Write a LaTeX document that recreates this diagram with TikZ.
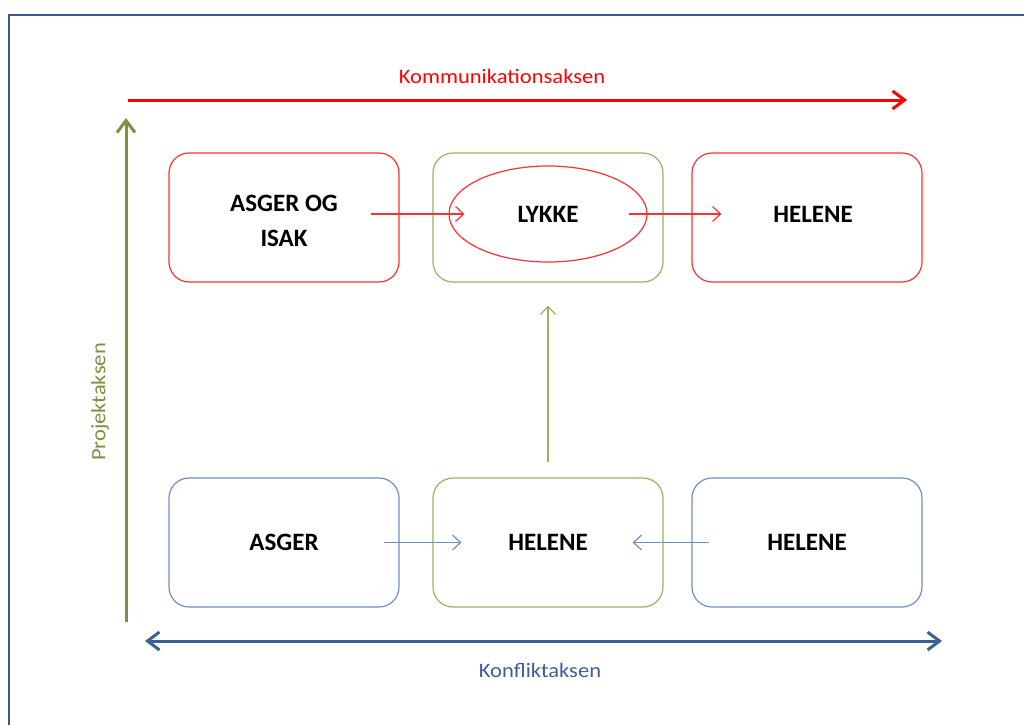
\documentclass[tikz,border=0pt]{standalone}
\usepackage{fontspec}
\setmainfont{Carlito}
\newfontfamily\labfont[FakeStretch=1.1]{Carlito}
\usetikzlibrary{arrows.meta,shapes.geometric}
\definecolor{frameblue}{HTML}{3F5689}
\definecolor{axred}{HTML}{FF0000}
\definecolor{boxred}{HTML}{FF3030}
\definecolor{axgreen}{HTML}{77933C}
\definecolor{boxgreen}{HTML}{9BB060}
\definecolor{axblue}{HTML}{3B6098}
\definecolor{boxblue}{HTML}{6F8FBF}
\tikzset{
  boldtxt/.style={inner sep=0pt, align=center, font=\fontsize{25}{35}\selectfont\bfseries},
  box/.style={draw, rounded corners=20pt, minimum width=230pt, minimum height=129pt, line width=1.2pt, boldtxt},
  redbox/.style={box, draw=boxred},
  greenbox/.style={box, draw=boxgreen},
  bluebox/.style={box, draw=boxblue},
  axis/.style={line width=3pt, -{Straight Barb[length=12pt, width=18pt, line width=3pt]}},
  thinarrow/.style={line width=1.2pt, -{Straight Barb[length=8pt, width=15pt, line width=1.2pt]}},
  lab/.style={font=\labfont\fontsize{20.5}{24}\selectfont}
}
\begin{document}
\begin{tikzpicture}[x=1pt,y=-1pt]
\useasboundingbox (0,0) rectangle (1024,724);
% frame
\draw[frameblue, line width=2pt] (9,740) -- (9,15) -- (1040,15);
% boxes
\node[redbox] (tl) at (284,217.5) {};
\node[boldtxt] (tlt) at (284,221) {ASGER OG\\ISAK};
\node[greenbox] (tm) at (548,217.5) {};
\node[redbox] (tr) at (807,217.5) {};
\node[boldtxt] (trt) at (813,214) {HELENE};
\node[bluebox] (bl) at (284,542.5) {ASGER};
\node[greenbox] (bm) at (548,542.5) {HELENE};
\node[bluebox] (br) at (807,542.5) {HELENE};
\node[ellipse, draw=boxred, line width=1.2pt, minimum width=198pt, minimum height=96pt, boldtxt] (ell) at (548,214) {LYKKE};
% axes
\coordinate (ra) at (128,100); \coordinate (rb) at (907,100);
\draw[axis, axred] (ra) -- (rb);
\node[lab, text=axred] (klab) at (502,76) {Kommunikationsaksen};
\coordinate (ga) at (126,622); \coordinate (gb) at (126,118);
\draw[axis, axgreen] (ga) -- (gb);
\node[lab, text=axgreen, rotate=90] (plab) at (100,402) {Projektaksen};
\coordinate (ba) at (145,641); \coordinate (bb) at (942,641);
\draw[axis, axblue, {Straight Barb[length=12pt, width=18pt, line width=3pt]}-{Straight Barb[length=12pt, width=18pt, line width=3pt]}] (ba) -- (bb);
\node[lab, text=axblue] (flab) at (540,670) {Konfliktaksen};
% inner arrows
\draw[thinarrow, boxred] ([xshift=-29pt]tl.east |- ell.west) -- ([xshift=16pt]ell.west);
\draw[thinarrow, boxred] ([xshift=-19pt]ell.east) -- ([xshift=30pt]tr.west |- ell.east);
\draw[thinarrow, boxgreen] ([yshift=15pt]bm.north) -- ([yshift=-23pt]tm.south);
\draw[thinarrow, boxblue] ([xshift=-16pt]bl.east) -- ([xshift=29pt]bm.west);
\draw[thinarrow, boxblue] ([xshift=18pt]br.west) -- ([xshift=-31pt]bm.east);
\end{tikzpicture}
\end{document}
